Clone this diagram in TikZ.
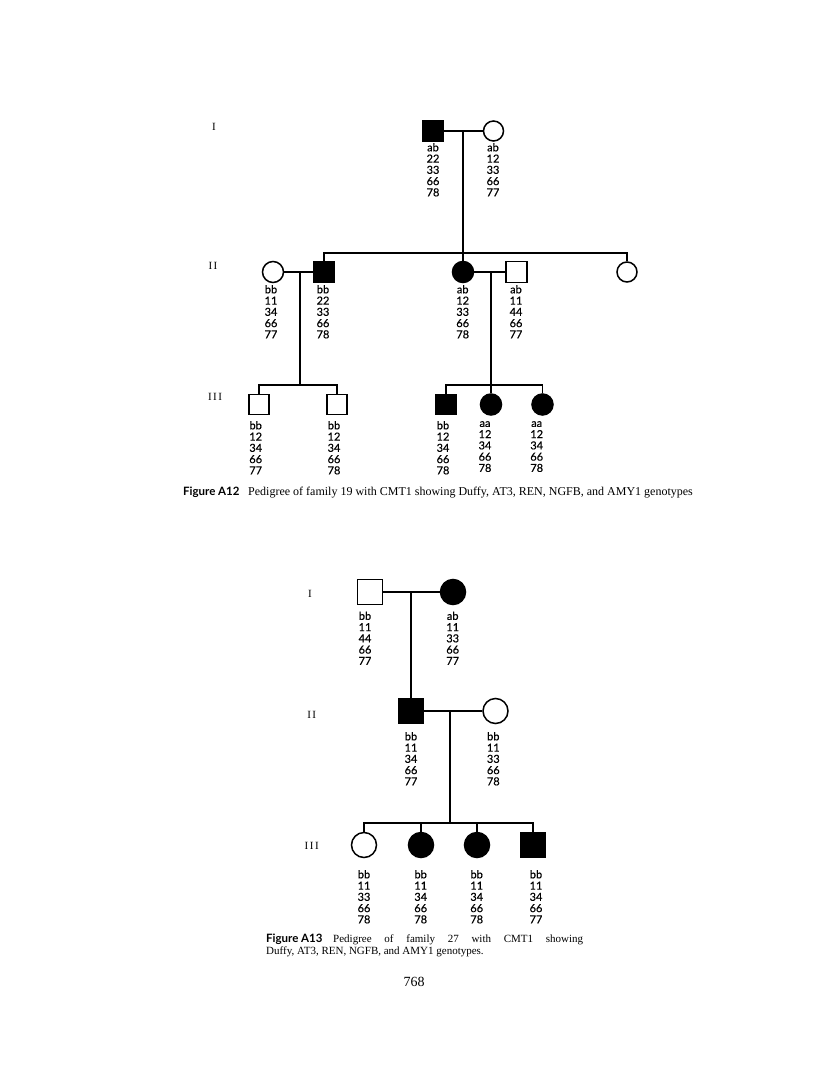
\documentclass[tikz,border=0pt]{standalone}
\usepackage{fontspec}
\setmainfont{Liberation Serif}
\newfontfamily\genofam[FakeBold=0.4]{Lato}
\newfontfamily\capsans{Lato}
\usetikzlibrary{calc}
\newcommand{\genofont}{\genofam\fontsize{11}{11.25}\selectfont}
\newcommand{\capbold}{\capsans\bfseries\fontsize{11.5}{13}\selectfont}
\newcommand{\capfontA}{\fontsize{12}{13}\selectfont}
\newcommand{\capfontB}{\fontsize{11}{12}\selectfont}
\tikzset{
  ind/.style={draw, line width=1.5pt, inner sep=0pt},
  male/.style={ind, rectangle, minimum size=21pt},
  female/.style={ind, circle, minimum size=21pt},
  big/.style={minimum size=25pt},
  aff/.style={fill=black},
  geno/.style={font=\genofont, align=center, anchor=north, inner sep=0pt},
  genlab/.style={font=\fontsize{11}{12}\selectfont, inner sep=0pt},
  link/.style={line width=1.5pt},
  captxt/.style={anchor=base west, inner sep=0pt},
  capfig/.style={font=\capbold, anchor=base west, inner sep=0pt}
}
\begin{document}
\begin{tikzpicture}[x=1pt,y=-1pt]
\path[use as bounding box, fill=white] (0,0) rectangle (816,1081);

% ================= Figure A12 =================
\node[genlab] (gA1) at (214,127) {I};
\node[genlab] (gA2) at (213,266) {I\kern1.5pt I};
\node[genlab] (gA3) at (215,397) {I\kern1.5pt I\kern1.5pt I};

% generation I
\node[male,aff] (A1) at (433,131) {};
\node[female,minimum size=20pt] (A2) at (493.5,131) {};
\coordinate (A12m) at (463,131);
\draw[link] (A1.east) -- (A2.west);

% generation II
\node[female] (B1) at (273,272) {};
\node[male,aff] (B2) at (324,272) {};
\node[female,aff] (B3) at (463,272) {};
\node[male] (B4) at (516.5,272) {};
\node[female,minimum size=20pt] (B5) at (627,272) {};
\coordinate (sB) at (463,253);
\draw[link] (A12m) -- (B3.north);
\draw[link] (B2.north) |- (sB) -| (B5.north);
\draw[link] (B1.east) -- (B2.west);
\draw[link] (B3.east) -- (B4.west);
\coordinate (B12m) at (300,272);
\coordinate (B34m) at (491,272);

% generation III
\node[male,minimum size=20pt] (C1) at (259,404.5) {};
\node[male,minimum size=20pt] (C2) at (337,404.5) {};
\node[male,aff,minimum size=20pt] (C3) at (446,404.5) {};
\node[female,aff] (C4) at (491,404.5) {};
\node[female,aff] (C5) at (542.5,404.5) {};
\coordinate (sC1) at (300,385);
\coordinate (sC2) at (491,385);
\draw[link] (B12m) -- (sC1);
\draw[link] (C1.north) |- (sC1) -| (C2.north);
\draw[link] (B34m) -- (C4.north);
\draw[link] (C3.north) |- (sC2) -| (C5.north);

% genotypes A12
\node[geno] (tA1) at (433,143) {ab\\22\\33\\66\\78};
\node[geno] (tA2) at (493,143) {ab\\12\\33\\66\\77};
\node[geno] (tB1) at (271,285) {bb\\11\\34\\66\\77};
\node[geno] (tB2) at (323,285) {bb\\22\\33\\66\\78};
\node[geno] (tB3) at (462.7,285) {ab\\12\\33\\66\\78};
\node[geno] (tB4) at (516,285) {ab\\11\\44\\66\\77};
\node[geno] (tC1) at (255.7,421) {bb\\12\\34\\66\\77};
\node[geno] (tC2) at (334,421) {bb\\12\\34\\66\\78};
\node[geno] (tC3) at (443,421) {bb\\12\\34\\66\\78};
\node[geno] (tC4) at (485,421) {aa\\12\\34\\66\\78};
\node[geno] (tC5) at (536.7,421) {aa\\12\\34\\66\\78};

% caption A12
\node[capfig] (capA) at (183,495) {Figure A12};
\node[captxt, font=\capfontA] (capAt) at (248,495) {Pedigree of family 19 with CMT1 showing Duffy, AT3, REN, NGFB, and AMY1 genotypes};

% ================= Figure A13 =================
\node[genlab] (gD1) at (310,594) {I};
\node[genlab] (gD2) at (311.7,715) {I\kern1.5pt I};
\node[genlab] (gD3) at (311.7,846) {I\kern1.5pt I\kern1.5pt I};

% generation I
\node[male,big] (D1) at (370,592) {};
\node[female,big,aff] (D2) at (453,592) {};
\coordinate (D12m) at (411,592);
\draw[link] (D1.east) -- (D2.west);

% generation II
\node[male,big,aff] (E1) at (411,711) {};
\node[female,big] (E2) at (495.5,711) {};
\draw[link] (D12m) -- (E1.north);
\draw[link] (E1.east) -- (E2.west);
\coordinate (E12m) at (450,711);

% generation III
\node[female,big] (F1) at (364,845) {};
\node[female,big,aff] (F2) at (421,845) {};
\node[female,big,aff] (F3) at (477,845) {};
\node[male,big,aff] (F4) at (533,845) {};
\coordinate (sF) at (450,823);
\draw[link] (E12m) -- (sF);
\draw[link] (F1.north) |- (sF) -| (F4.north);
\draw[link] (sF) -| (F2.north);
\draw[link] (sF) -| (F3.north);

% genotypes A13
\node[geno] (tD1) at (365,611.5) {bb\\11\\44\\66\\77};
\node[geno] (tD2) at (452.7,611.5) {ab\\11\\33\\66\\77};
\node[geno] (tE1) at (411,732) {bb\\11\\34\\66\\77};
\node[geno] (tE2) at (493.3,732) {bb\\11\\33\\66\\78};
\node[geno] (tF1) at (364,870) {bb\\11\\33\\66\\78};
\node[geno] (tF2) at (420.7,870) {bb\\11\\34\\66\\78};
\node[geno] (tF3) at (476.7,870) {bb\\11\\34\\66\\78};
\node[geno] (tF4) at (536,870) {bb\\11\\34\\66\\77};

% caption A13
\node[capfig] (capB) at (266,942.5) {Figure A13};
\node[captxt, font=\capfontB] (capBt) at (333,942.5) {\makebox[250pt][s]{Pedigree of family 27 with CMT1 showing}};
\node[captxt, font=\capfontB] (capBt2) at (266,954.5) {Duffy, AT3, REN, NGFB, and AMY1 genotypes.};

% page number
\node[font=\fontsize{14}{16}\selectfont, anchor=base, inner sep=0pt] (pg) at (414,986) {768};
\end{tikzpicture}
\end{document}
